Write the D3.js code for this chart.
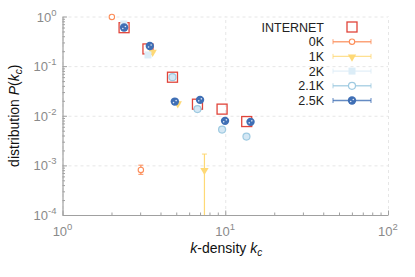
<!DOCTYPE html>
<html>
<head>
<meta charset="utf-8">
<script src="https://cdn.jsdelivr.net/npm/d3@7"></script>
<style>
  body { margin: 0; background: #fff; }
  svg { font-family: "Liberation Sans", Arial, sans-serif; }
  .axis path, .axis line { stroke: #a0a0a0; }
  .grid line { stroke: #e6e6e6; stroke-dasharray: 3,3; }
  .grid path { stroke: none; }
</style>
</head>
<body>
<div id="chart"></div>
<script>
// series names and colours (RdYlBu-ish)
var seriesNames = ["INTERNET", "0K", "1K", "2K", "2.1K", "2.5K"];
var seriesColors = ["#e0443a", "#fc8d59", "#fed976", "#dcedf7", "#9ecae1", "#3f6fb5"];

// INTERNET (open squares)
var internetK = [2.39, 3.35, 4.74, 6.75, 9.56, 13.55];
var internetP = [0.595, 0.222, 0.0598, 0.0171, 0.0136, 0.00764];

// 0K
var k0K = [2.01, 3.03];
var p0K = [0.98, 0.00081];
var lo0K = [0.94, 0.00066];
var hi0K = [1.02, 0.00101];

// 1K
var k1K = [3.58, 5.11, 7.45];
var p1K = [0.196, 0.018, 0.000815];
var lo1K = [0.188, 0.0172, 0.00001];
var hi1K = [0.204, 0.0188, 0.00169];

// 2K
var k2K = [2.38, 3.35];
var p2K = [0.707, 0.168];

// 2.1K
var k21K = [4.74, 6.75, 9.56, 13.5];
var p21K = [0.060, 0.0136, 0.00527, 0.00381];

// 2.5K
var k25K = [2.39, 3.44, 4.90, 7.0, 9.97, 14.3];
var p25K = [0.60, 0.255, 0.0193, 0.0209, 0.00789, 0.00753];

var xDecades = [1, 10, 100];
var yDecades = [1e-4, 1e-3, 1e-2, 1e-1, 1];

var W = 415, H = 277;
var margin = {top: 16.5, right: 27, bottom: 62, left: 62.5},
    width = W - margin.left - margin.right,
    height = H - margin.top - margin.bottom;

var xScale = d3.scaleLog().domain([1, 100]).range([0, width]);
var yScale = d3.scaleLog().domain([1e-4, 1]).range([height, 0]);

var svg = d3.select("#chart").append("svg")
    .attr("width", W)
    .attr("height", H)
  .append("g")
    .attr("transform", "translate(" + margin.left + "," + margin.top + ")");

svg.append("defs").append("clipPath").attr("id", "clip")
  .append("rect").attr("width", width).attr("height", height);

// gridlines
svg.append("g").attr("class", "grid")
    .attr("transform", "translate(0," + height + ")")
    .call(d3.axisBottom(xScale).tickValues(xDecades).tickSize(-height).tickFormat(""));
svg.append("g").attr("class", "grid")
    .call(d3.axisLeft(yScale).tickValues(yDecades).tickSize(-width).tickFormat(""));

// minor + major ticks (inward)
function minorTicks(decades) {
  var out = [];
  decades.slice(0, -1).forEach(function(d) {
    for (var m = 2; m <= 9; m++) out.push(d * m);
  });
  return out;
}

var xAx = svg.append("g").attr("class", "axis")
    .attr("transform", "translate(0," + height + ")");
xAx.call(d3.axisBottom(xScale).tickValues(minorTicks(xDecades)).tickSize(-2.5).tickFormat("").tickSizeOuter(0));
xAx.append("g").call(d3.axisBottom(xScale).tickValues(xDecades).tickSize(-4.5).tickFormat("").tickSizeOuter(0))
   .select(".domain").remove();

var yAx = svg.append("g").attr("class", "axis");
yAx.call(d3.axisLeft(yScale).tickValues(minorTicks(yDecades)).tickSize(-2.5).tickFormat("").tickSizeOuter(0));
yAx.append("g").call(d3.axisLeft(yScale).tickValues(yDecades).tickSize(-4.5).tickFormat("").tickSizeOuter(0))
   .select(".domain").remove();
svg.selectAll(".axis .domain").attr("stroke", "#a0a0a0").attr("stroke-width", 1.2);

// tick labels with superscripts
var xl = svg.selectAll(".xlab").data(xDecades).enter().append("text")
    .attr("class", "xlab")
    .attr("x", function(d) { return xScale(d); })
    .attr("y", height + 21)
    .attr("text-anchor", "middle")
    .attr("fill", "#8a8a8a")
    .attr("font-size", 13);
xl.append("tspan").text("10");
xl.append("tspan").attr("dy", -6).attr("font-size", 9.5)
    .text(function(d) { return Math.round(Math.log10(d)); });

var yl = svg.selectAll(".ylab").data(yDecades).enter().append("text")
    .attr("class", "ylab")
    .attr("x", -6)
    .attr("y", function(d) { return yScale(d) + 5; })
    .attr("text-anchor", "end")
    .attr("fill", "#8a8a8a")
    .attr("font-size", 13);
yl.append("tspan").text("10");
yl.append("tspan").attr("dy", -6).attr("font-size", 9.5)
    .text(function(d) { return Math.round(Math.log10(d)); });

// axis titles
var xt = svg.append("text")
    .attr("x", width / 2 + 1)
    .attr("y", height + 38)
    .attr("text-anchor", "middle")
    .attr("font-size", 14)
    .attr("fill", "#111");
xt.append("tspan").attr("font-style", "italic").text("k");
xt.append("tspan").text("-density ");
xt.append("tspan").attr("font-style", "italic").text("k");
xt.append("tspan").attr("font-style", "italic").attr("font-size", 10).attr("dy", 3).text("c");

var yt = svg.append("text")
    .attr("transform", "translate(" + (-44) + "," + (height / 2) + ") rotate(-90)")
    .attr("text-anchor", "middle")
    .attr("font-size", 14)
    .attr("fill", "#111");
yt.append("tspan").text("distribution ");
yt.append("tspan").attr("font-style", "italic").text("P");
yt.append("tspan").text("(");
yt.append("tspan").attr("font-style", "italic").text("k");
yt.append("tspan").attr("font-style", "italic").attr("font-size", 10).attr("dy", 3).text("c");
yt.append("tspan").attr("dy", -3).text(")");

// marker drawing helpers
function drawMarker(g, name, x, y, legend) {
  var c = seriesColors[seriesNames.indexOf(name)];
  if (name === "INTERNET") {
    g.append("rect").attr("x", x - 5).attr("y", y - 5).attr("width", 10).attr("height", 10)
      .attr("fill", "none").attr("stroke", c).attr("stroke-width", 1.3);
  } else if (name === "0K") {
    g.append("circle").attr("cx", x).attr("cy", y).attr("r", 2.7)
      .attr("fill", "#fff").attr("stroke", c).attr("stroke-width", 1.1);
  } else if (name === "1K") {
    g.append("path").attr("d", d3.symbol(d3.symbolTriangle, 30)())
      .attr("transform", "translate(" + x + "," + (y + 0.5) + ") rotate(180)")
      .attr("fill", c);
  } else if (name === "2K") {
    g.append("rect").attr("x", x - 3.5).attr("y", y - 3.5).attr("width", 7).attr("height", 7)
      .attr("fill", c);
  } else if (name === "2.1K") {
    g.append("circle").attr("cx", x).attr("cy", y).attr("r", 3.5)
      .attr("fill", legend ? "#fff" : "#d4e7f4").attr("stroke", c).attr("stroke-width", 1.2);
  } else {
    g.append("circle").attr("cx", x).attr("cy", y).attr("r", 4.2).attr("fill", c);
    g.append("circle").attr("cx", x - 1.3).attr("cy", y + 1).attr("r", 0.8).attr("fill", "#dbe6f4");
    g.append("circle").attr("cx", x + 1.3).attr("cy", y - 1).attr("r", 0.8).attr("fill", "#dbe6f4");
  }
}

// error bars are clipped to the plot area, markers are not
var bars = svg.append("g").attr("clip-path", "url(#clip)");
var plot = svg.append("g");

function errorBars(name, ks, lo, hi) {
  var c = seriesColors[seriesNames.indexOf(name)];
  ks.forEach(function(k, i) {
    var x = xScale(k), y1 = yScale(lo[i]), y2 = yScale(hi[i]);
    bars.append("line").attr("x1", x).attr("x2", x).attr("y1", y1).attr("y2", y2)
      .attr("stroke", c).attr("stroke-width", 1.2);
    [y1, y2].forEach(function(yy) {
      bars.append("line").attr("x1", x - 2.5).attr("x2", x + 2.5).attr("y1", yy).attr("y2", yy)
        .attr("stroke", c).attr("stroke-width", 1);
    });
  });
}

function points(name, ks, ps) {
  ks.forEach(function(k, i) {
    drawMarker(plot, name, xScale(k), yScale(ps[i]), false);
  });
}

errorBars("0K", k0K, lo0K, hi0K);
errorBars("1K", k1K, lo1K, hi1K);
points("INTERNET", internetK, internetP);
points("0K", k0K, p0K);
points("1K", k1K, p1K);
points("2K", k2K, p2K);
points("2.1K", k21K, p21K);
points("2.5K", k25K, p25K);

// legend
var legend = svg.append("g").attr("transform", "translate(" + (324 - margin.left) + "," + (27 - margin.top) + ")");
seriesNames.forEach(function(name, i) {
  var g = legend.append("g").attr("transform", "translate(0," + (i * 14.7) + ")");
  g.append("text").attr("x", 0).attr("y", 4.5).attr("text-anchor", "end")
    .attr("font-size", 12.5).attr("fill", "#222").text(name);
  if (name !== "INTERNET") {
    var c = seriesColors[i];
    g.append("line").attr("x1", 9).attr("x2", 47).attr("y1", 0).attr("y2", 0)
      .attr("stroke", c).attr("stroke-width", 1.4).attr("opacity", 0.8);
    [9, 47].forEach(function(xx) {
      g.append("line").attr("x1", xx).attr("x2", xx).attr("y1", -2.5).attr("y2", 2.5)
        .attr("stroke", c).attr("stroke-width", 1).attr("opacity", 0.8);
    });
  }
  drawMarker(g, name, 28, 0, true);
});
</script>
</body>
</html>
